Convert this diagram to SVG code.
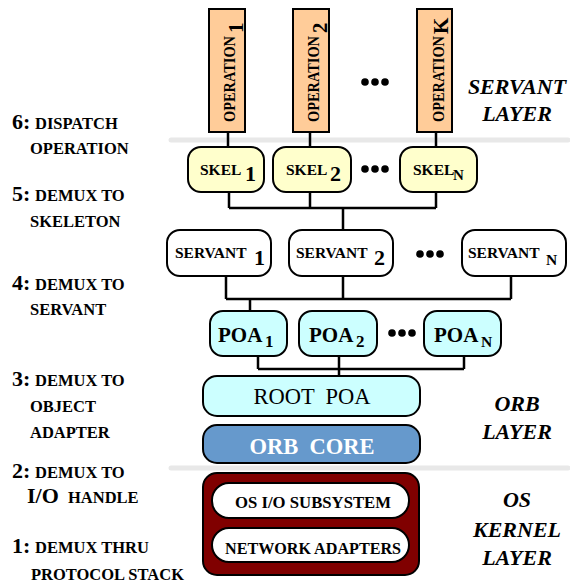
<svg xmlns="http://www.w3.org/2000/svg" width="570" height="584" viewBox="0 0 570 584" font-family="'Liberation Serif', 'DejaVu Serif', serif">
  <style>
    text { font-family: "Liberation Serif", "DejaVu Serif", serif; font-weight: bold; fill: #000; }
    .box { stroke: #000; stroke-width: 2; }
    .op { fill: #ffcc99; }
    .skel { fill: #ffffcc; }
    .srv { fill: #fff; }
    .poa { fill: #ccffff; }
    .core { fill: #6699cc; }
    .kern { fill: #800000; }
    .ln { stroke: #000; stroke-width: 2.5; fill: none; }
    .sep { stroke: #e8e8e8; stroke-width: 5; stroke-linecap: round; }
    .num { font-size: 22px; }
    .sc { font-size: 16.5px; }
    .layer { font-size: 22px; font-style: italic; text-anchor: middle; }
    .dot { fill: #000; }
  </style>

  <!-- layer separators -->
  <line class="sep" x1="171" y1="140" x2="568" y2="140"/>
  <line class="sep" x1="171" y1="468" x2="568" y2="468"/>

  <!-- connectors -->
  <g id="connectors">
    <path class="ln" d="M228,132 V147 M310,132 V147 M436,132 V147"/>
    <path class="ln" d="M229,192 V208 M310,192 V208 M436,192 V208 M229,208 H436 M343,208 V230"/>
    <path class="ln" d="M226,276 V299 M343,276 V299 M511,276 V299 M226,299 H511 M250,299 V311"/>
    <path class="ln" d="M258,356 V369 M339,356 V376 M464,356 V369 M258,369 H464"/>
  </g>

  <!-- operations -->
  <g id="op1">
    <rect class="box op" x="209" y="9" width="36" height="123"/>
    <text transform="translate(235,122) rotate(-90)" font-size="16.5"><tspan textLength="86" lengthAdjust="spacingAndGlyphs">OPERATION</tspan><tspan font-size="21" dx="3" dy="8">1</tspan></text>
  </g>
  <g id="op2">
    <rect class="box op" x="293" y="9" width="36" height="123"/>
    <text transform="translate(319,122) rotate(-90)" font-size="16.5"><tspan textLength="86" lengthAdjust="spacingAndGlyphs">OPERATION</tspan><tspan font-size="21" dx="3" dy="8">2</tspan></text>
  </g>
  <g id="opK">
    <rect class="box op" x="417" y="9" width="35" height="123"/>
    <text transform="translate(444,122) rotate(-90)" font-size="16.5"><tspan textLength="86" lengthAdjust="spacingAndGlyphs">OPERATION</tspan><tspan font-size="21" dx="2" dy="4">K</tspan></text>
  </g>
  <g id="op-dots">
    <circle class="dot" cx="365" cy="82" r="3.8"/><circle class="dot" cx="375" cy="82" r="3.8"/><circle class="dot" cx="385" cy="82" r="3.8"/>
  </g>

  <!-- skeletons -->
  <g id="skel1">
    <rect class="box skel" x="188" y="147" width="76" height="45" rx="13"/>
    <text y="175" font-size="15.5"><tspan x="200">SKEL</tspan><tspan x="245" y="181" font-size="22">1</tspan></text>
  </g>
  <g id="skel2">
    <rect class="box skel" x="273" y="147" width="78" height="45" rx="13"/>
    <text y="175" font-size="15.5"><tspan x="286">SKEL</tspan><tspan x="330" y="181" font-size="22">2</tspan></text>
  </g>
  <g id="skelN">
    <rect class="box skel" x="400" y="147" width="77" height="45" rx="13"/>
    <text y="175" font-size="15.5"><tspan x="413">SKEL</tspan><tspan x="453" y="180" font-size="15">N</tspan></text>
  </g>
  <g id="skel-dots">
    <circle class="dot" cx="365" cy="169" r="3.8"/><circle class="dot" cx="375" cy="169" r="3.8"/><circle class="dot" cx="385" cy="169" r="3.8"/>
  </g>

  <!-- servants -->
  <g id="servant1">
    <rect class="box srv" x="167" y="230" width="104" height="46" rx="13"/>
    <text y="258" font-size="15.5"><tspan x="175">SERVANT</tspan><tspan x="254" y="265" font-size="22">1</tspan></text>
  </g>
  <g id="servant2">
    <rect class="box srv" x="289" y="230" width="104" height="46" rx="13"/>
    <text y="258" font-size="15.5"><tspan x="296">SERVANT</tspan><tspan x="374" y="265" font-size="22">2</tspan></text>
  </g>
  <g id="servantN">
    <rect class="box srv" x="462" y="230" width="104" height="46" rx="13"/>
    <text y="258" font-size="15.5"><tspan x="468">SERVANT</tspan><tspan x="546" y="265" font-size="15.5">N</tspan></text>
  </g>
  <g id="servant-dots">
    <circle class="dot" cx="420" cy="254" r="3.8"/><circle class="dot" cx="430" cy="254" r="3.8"/><circle class="dot" cx="440" cy="254" r="3.8"/>
  </g>

  <!-- portable object adapters -->
  <g id="poa1">
    <rect class="box poa" x="210" y="311" width="77" height="45" rx="13"/>
    <text y="342" font-size="21"><tspan x="218">POA</tspan><tspan x="265" y="347" font-size="17">1</tspan></text>
  </g>
  <g id="poa2">
    <rect class="box poa" x="299" y="311" width="78" height="45" rx="13"/>
    <text y="342" font-size="21"><tspan x="309">POA</tspan><tspan x="356" y="347" font-size="17">2</tspan></text>
  </g>
  <g id="poaN">
    <rect class="box poa" x="424" y="311" width="77" height="45" rx="13"/>
    <text y="342" font-size="21"><tspan x="434">POA</tspan><tspan x="481" y="347" font-size="15.5">N</tspan></text>
  </g>
  <g id="poa-dots">
    <circle class="dot" cx="392" cy="333" r="3.8"/><circle class="dot" cx="402" cy="333" r="3.8"/><circle class="dot" cx="412" cy="333" r="3.8"/>
  </g>

  <!-- ORB layer -->
  <g id="root-poa">
    <rect class="box poa" x="203" y="376" width="217" height="40" rx="14"/>
    <text x="312" y="404" font-size="22.5" text-anchor="middle" style="font-weight:normal" xml:space="preserve">ROOT  POA</text>
  </g>
  <g id="orb-core">
    <rect class="box core" x="203" y="425" width="217" height="38" rx="14"/>
    <text x="312" y="454" font-size="22.5" text-anchor="middle" style="fill:#fff" xml:space="preserve">ORB  CORE</text>
  </g>

  <!-- OS kernel -->
  <g id="os-kernel">
    <rect class="box kern" x="203" y="473" width="216" height="102" rx="14"/>
  </g>
  <g id="os-io">
    <rect class="box srv" x="212" y="483" width="197" height="35" rx="17"/>
    <text x="235" y="508" font-size="16.5" textLength="156" lengthAdjust="spacingAndGlyphs">OS I/O SUBSYSTEM</text>
  </g>
  <g id="net-adapters">
    <rect class="box srv" x="212" y="528" width="197" height="34" rx="17"/>
    <text x="225" y="554" font-size="16" textLength="176" lengthAdjust="spacingAndGlyphs">NETWORK ADAPTERS</text>
  </g>

  <!-- layer names -->
  <g id="layer-labels">
    <text class="layer" x="517" y="94">SERVANT</text>
    <text class="layer" x="517" y="121">LAYER</text>
    <text class="layer" x="517" y="411">ORB</text>
    <text class="layer" x="517" y="439">LAYER</text>
    <text class="layer" x="517" y="507">OS</text>
    <text class="layer" x="517" y="537">KERNEL</text>
    <text class="layer" x="517" y="565">LAYER</text>
  </g>

  <!-- demultiplexing steps -->
  <g id="steps">
    <text class="num" x="12" y="129">6:</text>
    <text class="sc" x="35" y="129">DISPATCH</text>
    <text class="sc" x="30" y="154">OPERATION</text>

    <text class="num" x="12" y="201">5:</text>
    <text class="sc" x="35" y="201">DEMUX TO</text>
    <text class="sc" x="30" y="227">SKELETON</text>

    <text class="num" x="12" y="290">4:</text>
    <text class="sc" x="35" y="290">DEMUX TO</text>
    <text class="sc" x="30" y="315">SERVANT</text>

    <text class="num" x="12" y="386">3:</text>
    <text class="sc" x="35" y="386">DEMUX TO</text>
    <text class="sc" x="30" y="412">OBJECT</text>
    <text class="sc" x="30" y="438">ADAPTER</text>

    <text class="num" x="12" y="478">2:</text>
    <text class="sc" x="35" y="478">DEMUX TO</text>
    <text class="num" x="27" y="503">I/O</text>
    <text class="sc" x="68" y="503">HANDLE</text>

    <text class="num" x="12" y="553">1:</text>
    <text class="sc" x="35" y="553">DEMUX THRU</text>
    <text class="sc" x="31" y="580">PROTOCOL STACK</text>
  </g>
</svg>
